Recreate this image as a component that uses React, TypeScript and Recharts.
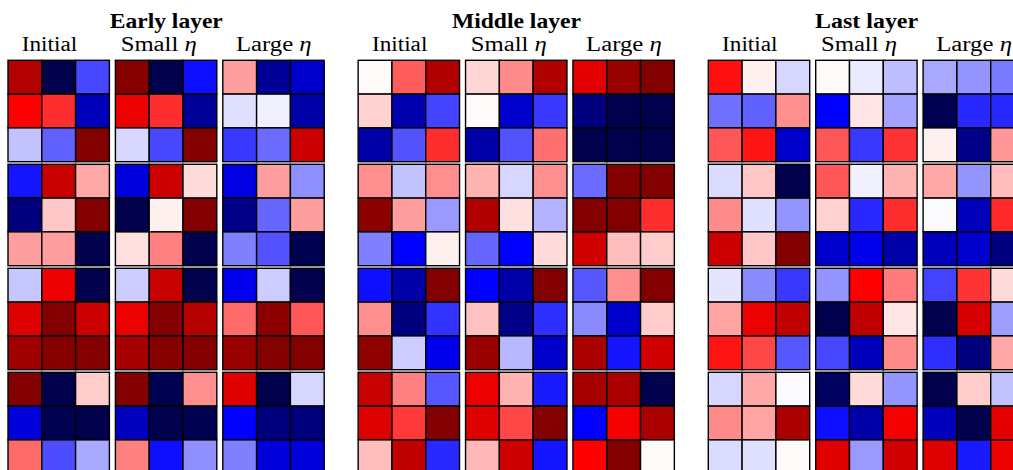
import React from "react";
import { ScatterChart, Scatter, XAxis, YAxis } from "recharts";

// layers and the three weight snapshots shown for each
const layers = ["Early layer", "Middle layer", "Last layer"];
const stages = ["Initial", "Small", "Large"];

// 4 stacked 3x3 kernels per panel -> 12 rows of 3 values in [-1, 1]
const earlyInitial = [
  [0.8, -1, -0.36], [0.5, 0.41, -0.69], [-0.12, -0.31, 0.99],
  [-0.46, 0.72, 0.17], [-0.86, 0.11, 0.99], [0.19, 0.19, -1],
  [-0.11, 0.57, -1], [0.63, 0.99, 0.7], [0.87, 0.97, 0.98],
  [0.99, -1, 0.1], [-0.6, -0.99, -1], [0.29, -0.35, -0.17],
];
const earlySmall = [
  [0.97, -1, -0.47], [0.57, 0.41, -0.79], [-0.08, -0.36, 0.99],
  [-0.59, 0.7, 0.07], [-1, 0.03, 0.99], [0.06, 0.25, -1],
  [-0.1, 0.72, -1], [0.57, 0.99, 0.79], [0.85, 0.97, 0.98],
  [0.99, -0.99, 0.22], [-0.68, -1, -0.99], [0.25, -0.47, -0.22],
];
const earlyLarge = [
  [0.19, -0.79, -0.64], [-0.06, -0.03, -0.74], [-0.39, -0.29, 0.7],
  [-0.58, 0.19, -0.22], [-0.83, -0.3, 0.19], [-0.25, -0.34, -0.99],
  [-0.55, -0.1, -1], [0.29, 0.95, 0.33], [0.9, 0.99, 0.99],
  [0.62, -1, -0.08], [-0.5, -0.86, -0.87], [-0.25, -0.6, -0.6],
];
const middleInitial = [
  [0.01, 0.32, 0.81], [0.09, -0.72, -0.37], [-0.74, -0.34, 0.41],
  [0.22, -0.12, 0.22], [0.95, 0.19, -0.2], [-0.25, -0.5, 0.03],
  [-0.47, -0.74, 0.99], [0.22, -0.86, -0.4], [0.94, -0.1, -0.55],
  [0.72, 0.25, -0.33], [0.63, 0.39, 0.99], [0.13, 0.75, -0.42],
];
const middleSmall = [
  [0.08, 0.23, 0.81], [0.01, -0.64, -0.39], [-0.74, -0.34, 0.28],
  [0.15, -0.08, 0.22], [0.81, 0.06, -0.15], [-0.3, -0.5, 0.07],
  [-0.5, -0.74, 0.99], [0.12, -0.83, -0.41], [0.9, -0.14, -0.64],
  [0.57, 0.15, -0.45], [0.62, 0.36, 0.99], [0.14, 0.7, -0.46],
];
const middleLarge = [
  [0.61, 0.9, 0.99], [-0.86, -1, -1], [-1, -1, -1],
  [-0.29, 0.99, 0.99], [0.99, 0.99, 0.41], [0.68, 0.13, 0.1],
  [-0.33, 0.22, 0.99], [-0.23, -0.64, 0.1], [0.83, -0.46, 0.68],
  [0.85, 0.83, -1], [-0.5, 0.54, 0.83], [0.5, 0.99, 0.01],
];
const lastInitial = [
  [0.47, 0.03, -0.08], [-0.28, -0.31, 0.22], [0.33, 0.46, -0.64],
  [-0.07, 0.11, -1], [0.23, -0.06, -0.21], [0.7, 0.11, 0.99],
  [-0.05, -0.23, -0.39], [0.18, 0.57, 0.75], [0.46, 0.36, -0.33],
  [-0.08, 0.17, -0.01], [0.23, 0.18, 0.83], [-0.07, -0.06, 0.01],
];
const lastSmall = [
  [0.01, -0.04, -0.13], [-0.5, 0.05, -0.18], [0.33, -0.39, 0.4],
  [0.33, -0.03, 0.15], [0.09, -0.42, 0.41], [-0.64, -0.55, -0.74],
  [-0.21, 0.5, 0.26], [-1, 0.75, 0.05], [-0.36, -0.69, 0.23],
  [-0.95, 0.07, -0.21], [-0.47, -0.74, 0.54], [0.62, -0.2, 0.68],
];
const lastLarge = [
  [-0.17, -0.21, -0.26], [-0.99, -0.42, -0.42], [0.03, -0.83, 0.2],
  [0.17, -0.21, 0.13], [-0.01, -0.69, 0.42], [-0.69, -0.64, -0.86],
  [-0.37, 0.4, 0.07], [-1, 0.66, -0.19], [-0.41, -0.86, 0.17],
  [-1, 0.1, -0.12], [-0.69, -1, 0.61], [0.63, -0.45, 0.57],
];

const panels = [
  [earlyInitial, earlySmall, earlyLarge],
  [middleInitial, middleSmall, middleLarge],
  [lastInitial, lastSmall, lastLarge],
];

// layout (px)
const W = 1013;
const H = 470;
const CELL = 33.8;
const X0 = 8;
const Y0 = 60.3;
const GROUP_STEP = 350.15;
const PANEL_STEP = 107.4;
const BLOCK_STEP = 104;

// matplotlib "seismic"
const seismic = (v: number) => {
  const stops = [
    [0, 0, 76.5],
    [0, 0, 255],
    [255, 255, 255],
    [255, 0, 0],
    [127.5, 0, 0],
  ];
  const t = Math.max(0, Math.min(1, (v + 1) / 2)) * 4;
  const i = Math.min(3, Math.floor(t));
  const f = t - i;
  const c = stops[i].map((a, k) => Math.round(a + (stops[i + 1][k] - a) * f));
  return `rgb(${c[0]},${c[1]},${c[2]})`;
};

const cells: { x: number; y: number; v: number }[] = [];
panels.forEach((group, g) =>
  group.forEach((rows, p) =>
    rows.forEach((row, r) =>
      row.forEach((v, c) => {
        const block = Math.floor(r / 3);
        cells.push({
          x: X0 + g * GROUP_STEP + p * PANEL_STEP + (c + 0.5) * CELL,
          y: Y0 + block * BLOCK_STEP + ((r % 3) + 0.5) * CELL,
          v,
        });
      })
    )
  )
);

const Cell = (props: any) => {
  const { cx, cy, payload } = props;
  return (
    <rect
      x={cx - CELL / 2}
      y={cy - CELL / 2}
      width={CELL}
      height={CELL}
      fill={seismic(payload.v)}
      stroke="#000"
      strokeWidth={1.4}
    />
  );
};

const titleWidths = [113, 129, 103];
const subCenters = [41.5, 150.7, 265.8];
const subWidths = [55.5, 76, 75.7];

export default function App() {
  return (
    <div style={{ position: "absolute", left: 0, top: 0, width: W, height: H, background: "#fff" }}>
      <ScatterChart width={W} height={H} margin={{ top: 0, right: 0, bottom: 0, left: 0 }}>
        <XAxis type="number" dataKey="x" domain={[0, W]} hide />
        <YAxis type="number" dataKey="y" domain={[0, H]} reversed hide />
        <Scatter data={cells} shape={Cell} isAnimationActive={false} />
      </ScatterChart>
      <svg
        width={W}
        height={H}
        style={{ position: "absolute", left: 0, top: 0, pointerEvents: "none" }}
        fontFamily="'Liberation Serif', 'Times New Roman', serif"
      >
        {layers.map((name, g) => (
          <g key={name}>
            <text
              x={X0 + g * GROUP_STEP + 158.3}
              y={28.3}
              textAnchor="middle"
              fontSize={21}
              fontWeight="bold"
              textLength={titleWidths[g]}
              lengthAdjust="spacingAndGlyphs"
            >
              {name}
            </text>
            {stages.map((s, p) => (
              <text
                key={s}
                x={X0 + g * GROUP_STEP + subCenters[p]}
                y={51}
                textAnchor="middle"
                fontSize={20.5}
                textLength={subWidths[p]}
                lengthAdjust="spacingAndGlyphs"
              >
                {s}
                {p > 0 && (
                  <tspan fontStyle="italic">{" η"}</tspan>
                )}
              </text>
            ))}
          </g>
        ))}
      </svg>
    </div>
  );
}
